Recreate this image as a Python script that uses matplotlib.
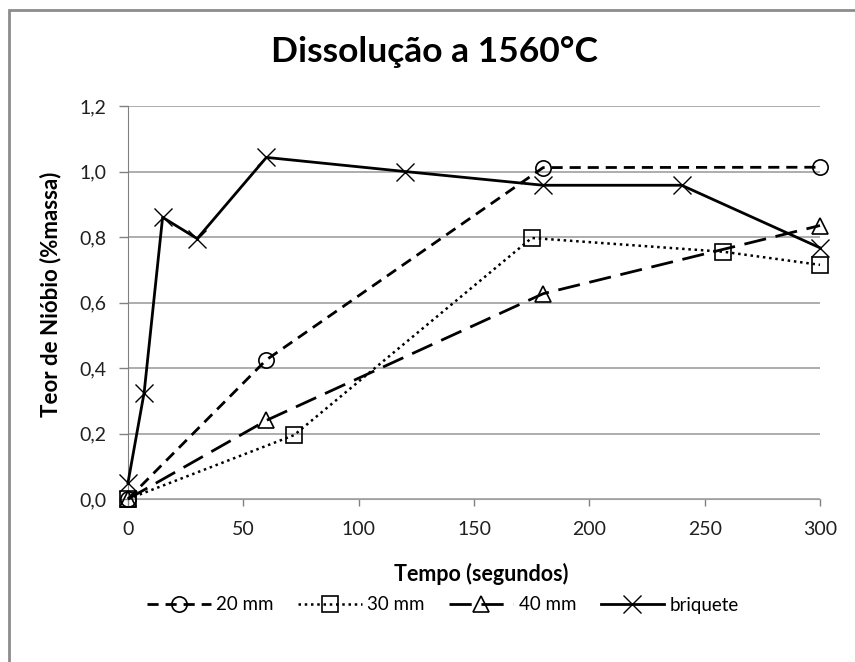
import matplotlib.pyplot as plt
from matplotlib.patches import Rectangle
from matplotlib.ticker import FuncFormatter

plt.rcParams['font.family'] = ['Lato', 'DejaVu Sans']

# dados
t_20 = [0, 60, 180, 300]
nb_20 = [0.0, 0.425, 1.012, 1.013]

t_30 = [0, 72, 175, 258, 300]
nb_30 = [0.0, 0.195, 0.797, 0.755, 0.715]

t_40 = [0, 60, 180, 300]
nb_40 = [0.0, 0.24, 0.627, 0.835]

t_bq = [0, 7, 15, 30, 60, 120, 180, 240, 300]
nb_bq = [0.05, 0.325, 0.86, 0.795, 1.043, 1.0, 0.958, 0.958, 0.767]

fig = plt.figure(figsize=(8.55, 6.62), dpi=100)
ax = fig.add_axes([128/855, 1 - 499/662, (820-128)/855, (499-106)/662])

# moldura da area do grafico (so esquerda e topo aparecem)
fig.patches.append(Rectangle((9/855, -0.1), 1.2, (662-10)/662 + 0.1,
                             transform=fig.transFigure, fill=False,
                             edgecolor='#8c8c8c', linewidth=2))

ax.plot(t_20, nb_20, color='black', linestyle=(0, (4, 2.5)), linewidth=2,
        marker='o', markersize=11, markerfacecolor='none',
        markeredgewidth=1.2, label='20 mm', clip_on=False, zorder=3)
ax.plot(t_30, nb_30, color='black', linestyle=(0, (1, 1.5)), linewidth=1.8,
        marker='s', markersize=11, markerfacecolor='none',
        markeredgewidth=1.2, label='30 mm', clip_on=False, zorder=3)
ax.plot(t_40, nb_40, color='black', linestyle=(0, (8, 3.5)), linewidth=2,
        marker='^', markersize=12, markerfacecolor='none',
        markeredgewidth=1.2, label='40 mm', clip_on=False, zorder=3)
ax.plot(t_bq, nb_bq, color='black', linestyle='-', linewidth=2,
        marker='x', markersize=13, markeredgewidth=1.0, label='briquete',
        clip_on=False, zorder=3)

ax.set_xlim(0, 300)
ax.set_ylim(0, 1.2)
ax.set_xticks(range(0, 301, 50))
ax.set_yticks([0, 0.2, 0.4, 0.6, 0.8, 1.0, 1.2])
ax.yaxis.set_major_formatter(FuncFormatter(lambda v, p: f'{v:.1f}'.replace('.', ',')))
ax.grid(axis='y', color='#a0a0a0', linewidth=1.2)
ax.set_axisbelow(True)
for s in ['top', 'right']:
    ax.spines[s].set_visible(False)
ax.spines['left'].set_color('#808080')
ax.spines['bottom'].set_color('#a0a0a0')
ax.tick_params(axis='x', labelsize=14, colors='#808080', labelcolor='#202020',
               length=5, width=1, pad=11)
ax.tick_params(axis='y', labelsize=14, colors='#808080', labelcolor='#202020',
               length=6.5, width=1, pad=9)

ax.set_xlabel('Tempo (segundos)', fontsize=15.5, fontweight='bold')
ax.xaxis.set_label_coords(0.51, -0.163)
ax.set_ylabel('Teor de Nióbio (%massa)', fontsize=16, fontweight='bold')
ax.yaxis.set_label_coords(-0.097, 0.52)

fig.text(434/855, 1 - 52/662, 'Dissolução a 1560°C', fontsize=25.5,
         ha='center', va='center', fontweight='bold')

fig.legend(loc='center', bbox_to_anchor=(443/855, 1 - 605/662), ncol=4,
           frameon=False, fontsize=13.5, handlelength=3.4, columnspacing=1.3,
           handletextpad=0.3)

fig.savefig('out.png', dpi=100)
